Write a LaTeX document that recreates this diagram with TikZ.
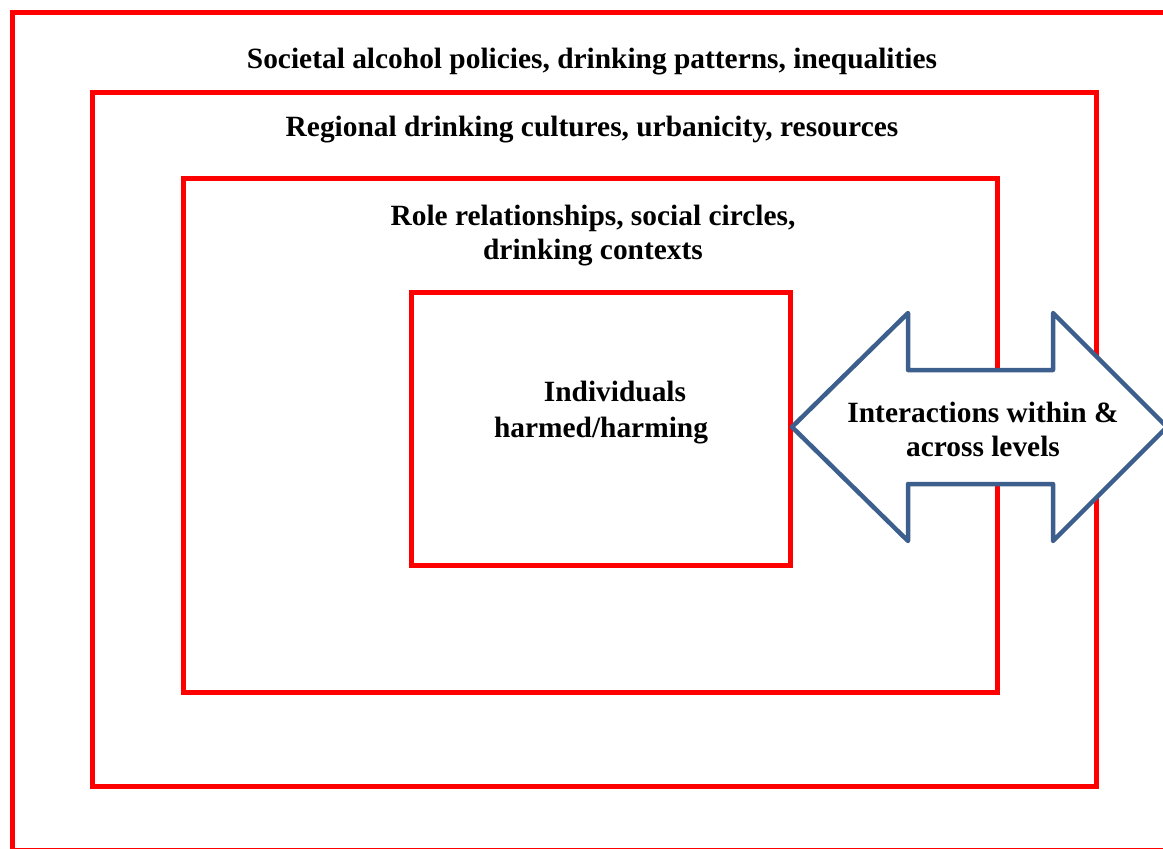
\documentclass[tikz,border=0pt]{standalone}
\usepackage{fontspec}
\setmainfont{Liberation Serif}
\definecolor{boxred}{HTML}{FF0000}
\definecolor{arrowblue}{HTML}{3D5F8D}
\begin{document}
\begin{tikzpicture}[x=1pt,y=-1pt,
  level/.style={draw=boxred,line width=5pt},
  lbl/.style={font=\fontsize{29.4}{34}\selectfont\bfseries,anchor=base,inner sep=0pt,align=center},
  dblarrow/.style={draw=arrowblue,fill=white,line width=4.5pt,line join=round}]
\useasboundingbox (0,0) rectangle (1163,849);
\clip (0,0) rectangle (1163,849);
% nested levels
\draw[level] (12,12) rectangle (1180,850.8);
\draw[level] (92,92) rectangle (1096,786);
\draw[level] (183,178) rectangle (997,692);
\draw[level] (411,292) rectangle (790,565);
% labels
\node[lbl] (soc) at (592,68) {Societal alcohol policies, drinking patterns, inequalities};
\node[lbl] (reg) at (592,136) {Regional drinking cultures, urbanicity, resources};
\node[lbl] (role) at (593,225) {Role relationships, social circles,};
\node[lbl] (role2) at (593,259) {drinking contexts};
\node[lbl] (ind) at (615,401) {Individuals};
\node[lbl] (ind2) at (601,437) {harmed/harming};
% double arrow
\draw[dblarrow] (792,427) -- (908,313) -- (908,370) -- (1053,370) -- (1053,313)
  -- (1167,427) -- (1053,541) -- (1053,484) -- (908,484) -- (908,541) -- cycle;
\node[lbl] (int) at (983,422) {Interactions within \&};
\node[lbl] (int2) at (983,456) {across levels};
\end{tikzpicture}
\end{document}
